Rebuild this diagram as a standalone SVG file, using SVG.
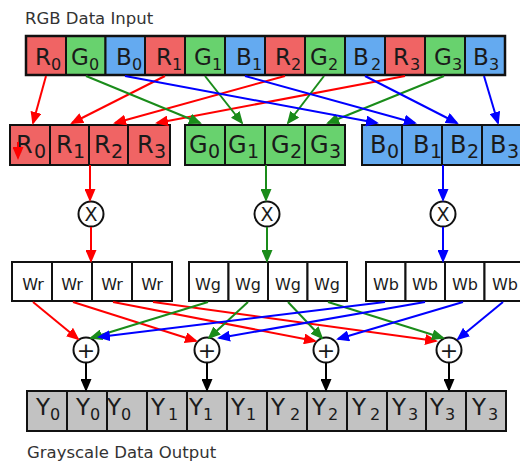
<svg xmlns="http://www.w3.org/2000/svg" width="520" height="462" viewBox="0 0 520 462">
  <style>
    text { font-family: "DejaVu Sans", "Liberation Sans", sans-serif; fill: #1a1a1a; }
    .title { font-size: 16.5px; fill: #333; }
    .cell { stroke: #111; stroke-width: 2; }
    .frame { fill: none; stroke: #111; stroke-width: 2.5; }
    .r { fill: #f06464; }
    .g { fill: #68d26e; }
    .b { fill: #64aaf0; }
    .w { fill: #ffffff; }
    .y { fill: #c2c2c2; }
    .big { font-size: 23px; }
    .sub { font-size: 16px; }
    .big2 { font-size: 24px; }
    .sub2 { font-size: 19px; }
    .wt { font-size: 16px; text-anchor: middle; }
    .op { fill: #fff; stroke: #111; stroke-width: 2; }
    .opt { font-size: 19px; text-anchor: middle; }
    .plus { font-size: 22px; text-anchor: middle; }
    .cr { stroke: #ff0000; stroke-width: 2; fill: none; marker-end: url(#ar); }
    .cg { stroke: #1a8c1a; stroke-width: 2; fill: none; marker-end: url(#ag); }
    .cb { stroke: #0000ff; stroke-width: 2; fill: none; marker-end: url(#ab); }
    .ck { stroke: #000; stroke-width: 2; fill: none; marker-end: url(#ak); }
  </style>
  <defs>
    <marker id="ar" markerUnits="userSpaceOnUse" markerWidth="13" markerHeight="11" refX="11" refY="5.5" orient="auto"><path d="M0,0 L13,5.5 L0,11 z" fill="#ff0000"/></marker>
    <marker id="ag" markerUnits="userSpaceOnUse" markerWidth="13" markerHeight="11" refX="11" refY="5.5" orient="auto"><path d="M0,0 L13,5.5 L0,11 z" fill="#1a8c1a"/></marker>
    <marker id="ab" markerUnits="userSpaceOnUse" markerWidth="13" markerHeight="11" refX="11" refY="5.5" orient="auto"><path d="M0,0 L13,5.5 L0,11 z" fill="#0000ff"/></marker>
    <marker id="ak" markerUnits="userSpaceOnUse" markerWidth="13" markerHeight="11" refX="11" refY="5.5" orient="auto"><path d="M0,0 L13,5.5 L0,11 z" fill="#000"/></marker>
  </defs>

  <rect width="520" height="462" fill="#fff"/>

  <text class="title" x="25" y="24">RGB Data Input</text>
  <text class="title" x="27" y="458">Grayscale Data Output</text>

  <!-- interleaved input stream -->
  <g id="input">
    <rect class="cell r" x="26" y="36" width="40" height="39"/>
    <rect class="cell g" x="66" y="36" width="39.5" height="39"/>
    <rect class="cell b" x="105.5" y="36" width="39.5" height="39"/>
    <rect class="cell r" x="145" y="36" width="40" height="39"/>
    <rect class="cell g" x="185" y="36" width="40" height="39"/>
    <rect class="cell b" x="225" y="36" width="40" height="39"/>
    <rect class="cell r" x="265" y="36" width="40" height="39"/>
    <rect class="cell g" x="305" y="36" width="40" height="39"/>
    <rect class="cell b" x="345" y="36" width="40" height="39"/>
    <rect class="cell r" x="385" y="36" width="40" height="39"/>
    <rect class="cell g" x="425" y="36" width="40" height="39"/>
    <rect class="cell b" x="465" y="36" width="40" height="39"/>
    <rect class="frame" x="26" y="36" width="479" height="39"/>
    <text class="big" x="35" y="65">R<tspan class="sub" x="51" y="70">0</tspan></text>
    <text class="big" x="71" y="65">G<tspan class="sub" x="89" y="70">0</tspan></text>
    <text class="big" x="116" y="65">B<tspan class="sub" x="132" y="70">0</tspan></text>
    <text class="big" x="156" y="65">R<tspan class="sub" x="172" y="70">1</tspan></text>
    <text class="big" x="194" y="65">G<tspan class="sub" x="212" y="70">1</tspan></text>
    <text class="big" x="236" y="65">B<tspan class="sub" x="252" y="70">1</tspan></text>
    <text class="big" x="275" y="65">R<tspan class="sub" x="291" y="70">2</tspan></text>
    <text class="big" x="310" y="65">G<tspan class="sub" x="328" y="70">2</tspan></text>
    <text class="big" x="353" y="65">B<tspan class="sub" x="371" y="70">2</tspan></text>
    <text class="big" x="393" y="65">R<tspan class="sub" x="410" y="70">3</tspan></text>
    <text class="big" x="434" y="65">G<tspan class="sub" x="452" y="70">3</tspan></text>
    <text class="big" x="473" y="65">B<tspan class="sub" x="489" y="70">3</tspan></text>
  </g>

  <!-- planar channels -->
  <g id="red-plane">
    <rect class="cell r" x="10" y="125" width="40" height="40"/>
    <rect class="cell r" x="50" y="125" width="39" height="40"/>
    <rect class="cell r" x="89" y="125" width="39" height="40"/>
    <rect class="cell r" x="128" y="125" width="42" height="40"/>
    <text class="big2" x="16" y="153">R<tspan class="sub2" x="34" y="158">0</tspan></text>
    <text class="big2" x="56" y="153">R<tspan class="sub2" x="73" y="158">1</tspan></text>
    <text class="big2" x="94" y="153">R<tspan class="sub2" x="111" y="158">2</tspan></text>
    <text class="big2" x="137" y="153">R<tspan class="sub2" x="154" y="158">3</tspan></text>
  </g>
  <g id="green-plane">
    <rect class="cell g" x="185" y="125" width="40" height="40"/>
    <rect class="cell g" x="225" y="125" width="40" height="40"/>
    <rect class="cell g" x="265" y="125" width="40" height="40"/>
    <rect class="cell g" x="305" y="125" width="40" height="40"/>
    <text class="big2" x="189" y="153">G<tspan class="sub2" x="208" y="158">0</tspan></text>
    <text class="big2" x="228" y="153">G<tspan class="sub2" x="247" y="158">1</tspan></text>
    <text class="big2" x="271" y="153">G<tspan class="sub2" x="290" y="158">2</tspan></text>
    <text class="big2" x="310" y="153">G<tspan class="sub2" x="329" y="158">3</tspan></text>
  </g>
  <g id="blue-plane">
    <rect class="cell b" x="362" y="125" width="40" height="40"/>
    <rect class="cell b" x="402" y="125" width="40" height="40"/>
    <rect class="cell b" x="442" y="125" width="40" height="40"/>
    <rect class="cell b" x="482" y="125" width="40" height="40"/>
    <text class="big2" x="370" y="153">B<tspan class="sub2" x="387" y="158">0</tspan></text>
    <text class="big2" x="413" y="153">B<tspan class="sub2" x="430" y="158">1</tspan></text>
    <text class="big2" x="450" y="153">B<tspan class="sub2" x="467" y="158">2</tspan></text>
    <text class="big2" x="490" y="153">B<tspan class="sub2" x="507" y="158">3</tspan></text>
  </g>

  <!-- multipliers -->
  <g id="mul-r"><circle class="op" cx="91" cy="214" r="12.5"/><text class="opt" x="91" y="221">X</text></g>
  <g id="mul-g"><circle class="op" cx="267" cy="214" r="12.5"/><text class="opt" x="267" y="221">X</text></g>
  <g id="mul-b"><circle class="op" cx="443" cy="214" r="12.5"/><text class="opt" x="443" y="221">X</text></g>

  <!-- weighted channels -->
  <g id="weights-r">
    <rect class="cell w" x="12" y="262" width="40" height="39"/>
    <rect class="cell w" x="52" y="262" width="40" height="39"/>
    <rect class="cell w" x="92" y="262" width="40" height="39"/>
    <rect class="cell w" x="132" y="262" width="40" height="39"/>
    <text class="wt" x="33" y="290">Wr</text>
    <text class="wt" x="72" y="290">Wr</text>
    <text class="wt" x="112" y="290">Wr</text>
    <text class="wt" x="152" y="290">Wr</text>
  </g>
  <g id="weights-g">
    <rect class="cell w" x="189" y="262" width="39.5" height="39"/>
    <rect class="cell w" x="228.5" y="262" width="39.5" height="39"/>
    <rect class="cell w" x="268" y="262" width="39.5" height="39"/>
    <rect class="cell w" x="307.5" y="262" width="39.5" height="39"/>
    <text class="wt" x="208" y="290">Wg</text>
    <text class="wt" x="248" y="290">Wg</text>
    <text class="wt" x="288" y="290">Wg</text>
    <text class="wt" x="327" y="290">Wg</text>
  </g>
  <g id="weights-b">
    <rect class="cell w" x="366" y="262" width="39.5" height="39"/>
    <rect class="cell w" x="405.5" y="262" width="39.5" height="39"/>
    <rect class="cell w" x="445" y="262" width="39.5" height="39"/>
    <rect class="cell w" x="484.5" y="262" width="39.5" height="39"/>
    <text class="wt" x="386" y="290">Wb</text>
    <text class="wt" x="425" y="290">Wb</text>
    <text class="wt" x="465" y="290">Wb</text>
    <text class="wt" x="505" y="290">Wb</text>
  </g>

  <!-- adders -->
  <g id="add-0"><circle class="op" cx="86" cy="350" r="12.5"/><text class="plus" x="86" y="358">+</text></g>
  <g id="add-1"><circle class="op" cx="207" cy="350" r="12.5"/><text class="plus" x="207" y="358">+</text></g>
  <g id="add-2"><circle class="op" cx="326" cy="350" r="12.5"/><text class="plus" x="326" y="358">+</text></g>
  <g id="add-3"><circle class="op" cx="449" cy="350" r="12.5"/><text class="plus" x="449" y="358">+</text></g>

  <!-- grayscale output stream -->
  <g id="output">
    <rect class="cell y" x="27" y="391" width="40" height="40"/>
    <rect class="cell y" x="67" y="391" width="40" height="40"/>
    <rect class="cell y" x="107" y="391" width="40" height="40"/>
    <rect class="cell y" x="147" y="391" width="40" height="40"/>
    <rect class="cell y" x="187" y="391" width="40" height="40"/>
    <rect class="cell y" x="227" y="391" width="40" height="40"/>
    <rect class="cell y" x="267" y="391" width="40" height="40"/>
    <rect class="cell y" x="307" y="391" width="40" height="40"/>
    <rect class="cell y" x="347" y="391" width="40" height="40"/>
    <rect class="cell y" x="387" y="391" width="39" height="40"/>
    <rect class="cell y" x="426" y="391" width="40" height="40"/>
    <rect class="cell y" x="466" y="391" width="40" height="40"/>
    <text class="big" x="36" y="415">Y<tspan class="sub" x="50" y="420">0</tspan></text>
    <text class="big" x="76" y="415">Y<tspan class="sub" x="90" y="420">0</tspan></text>
    <text class="big" x="107" y="415">Y<tspan class="sub" x="121" y="420">0</tspan></text>
    <text class="big" x="151" y="415">Y<tspan class="sub" x="168" y="420">1</tspan></text>
    <text class="big" x="189" y="415">Y<tspan class="sub" x="203" y="420">1</tspan></text>
    <text class="big" x="231" y="415">Y<tspan class="sub" x="246" y="420">1</tspan></text>
    <text class="big" x="271" y="415">Y<tspan class="sub" x="290" y="420">2</tspan></text>
    <text class="big" x="312" y="415">Y<tspan class="sub" x="328" y="420">2</tspan></text>
    <text class="big" x="352" y="415">Y<tspan class="sub" x="370" y="420">2</tspan></text>
    <text class="big" x="392" y="415">Y<tspan class="sub" x="408" y="420">3</tspan></text>
    <text class="big" x="430" y="415">Y<tspan class="sub" x="445" y="420">3</tspan></text>
    <text class="big" x="472" y="415">Y<tspan class="sub" x="488" y="420">3</tspan></text>
  </g>

  <g id="connectors">
    <!-- deinterleave -->
    <line class="cr" x1="46" y1="76" x2="33" y2="123"/>
    <line class="cr" x1="165" y1="76" x2="72" y2="123"/>
    <line class="cr" x1="285" y1="76" x2="115" y2="123"/>
    <line class="cr" x1="405" y1="76" x2="157" y2="123"/>
    <line class="cg" x1="86" y1="76" x2="200" y2="123"/>
    <line class="cg" x1="205" y1="76" x2="242" y2="123"/>
    <line class="cg" x1="324" y1="76" x2="288" y2="123"/>
    <line class="cg" x1="444" y1="76" x2="328" y2="123"/>
    <line class="cb" x1="125" y1="76" x2="377" y2="123"/>
    <line class="cb" x1="245" y1="76" x2="415" y2="123"/>
    <line class="cb" x1="365" y1="76" x2="457" y2="123"/>
    <line class="cb" x1="484" y1="76" x2="498" y2="123"/>
    <line class="cr" x1="18" y1="142" x2="18" y2="158"/>
    <!-- into multipliers -->
    <line class="cr" x1="90" y1="165" x2="90" y2="200"/>
    <line class="cg" x1="266" y1="165" x2="266" y2="200"/>
    <line class="cb" x1="443" y1="165" x2="443" y2="200"/>
    <!-- out of multipliers -->
    <line class="cr" x1="91" y1="227" x2="91" y2="261"/>
    <line class="cg" x1="267" y1="227" x2="267" y2="261"/>
    <line class="cb" x1="443" y1="227" x2="443" y2="261"/>
    <!-- weighted terms to adders -->
    <line class="cr" x1="33" y1="302" x2="78" y2="339"/>
    <line class="cr" x1="73" y1="302" x2="196" y2="341"/>
    <line class="cr" x1="113" y1="302" x2="315" y2="341"/>
    <line class="cr" x1="153" y1="302" x2="436" y2="341"/>
    <line class="cg" x1="208" y1="302" x2="91" y2="338"/>
    <line class="cg" x1="248" y1="302" x2="209" y2="338"/>
    <line class="cg" x1="288" y1="302" x2="322" y2="338"/>
    <line class="cg" x1="328" y1="302" x2="443" y2="338"/>
    <line class="cb" x1="385" y1="302" x2="99" y2="337"/>
    <line class="cb" x1="425" y1="302" x2="219" y2="338"/>
    <line class="cb" x1="463" y1="302" x2="338" y2="339"/>
    <line class="cb" x1="503" y1="302" x2="458" y2="339"/>
    <!-- sums to output -->
    <line class="ck" x1="86" y1="363" x2="86" y2="390"/>
    <line class="ck" x1="207" y1="363" x2="207" y2="390"/>
    <line class="ck" x1="326" y1="363" x2="326" y2="390"/>
    <line class="ck" x1="449" y1="363" x2="449" y2="390"/>
  </g>
</svg>
